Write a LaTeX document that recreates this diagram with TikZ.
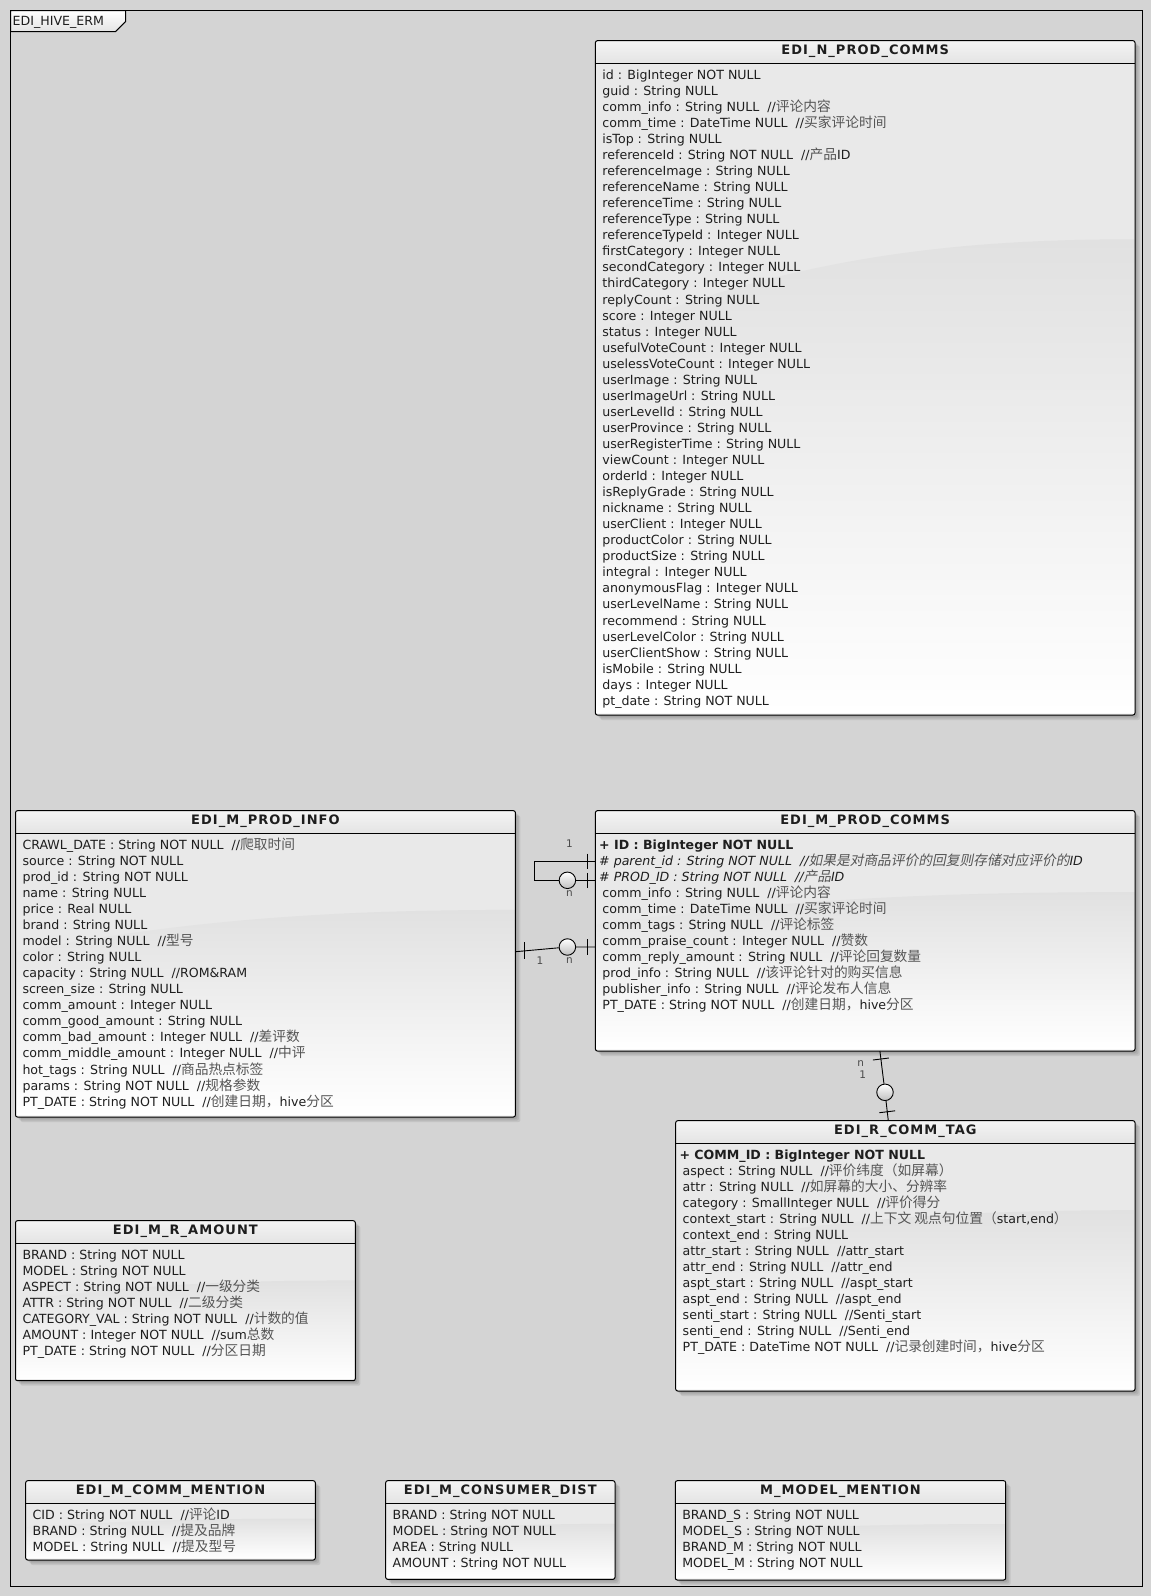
\documentclass[tikz,border=0pt]{standalone}
\usepackage{fontspec}
\setmainfont{DejaVu Sans}
\newfontfamily\cjkfont[Scale=1.09]{Noto Sans CJK SC}
\newfontfamily\cjkslant[Scale=1.09,FakeSlant=0.2]{Noto Sans CJK SC}
\newfontfamily\ttlfont[LetterSpace=8]{DejaVu Sans}
\usetikzlibrary{calc}
\definecolor{bgc}{RGB}{212,212,212}
\definecolor{txtc}{RGB}{30,30,30}
\definecolor{zhc}{RGB}{85,85,85}
\definecolor{hdtop}{RGB}{244,244,244}
\definecolor{hdbot}{RGB}{228,228,228}
\definecolor{bodyc}{RGB}{233,233,233}
\definecolor{glossc}{RGB}{225,225,225}
\newcommand\zh[1]{{\cjkfont\color{zhc}#1}}
\newcommand\zi[1]{{\cjkslant\color{zhc}#1}}
\newcommand\cgap{\ \ }
\newcommand\erbox[6]{%
  \foreach \s in {5,3.5,2}{\fill[black,opacity=0.08,rounded corners=2pt] (#2+\s,#3+\s) rectangle (#4+\s,#5+\s);}
  \node[erbody, anchor=north west, minimum width={#4-#2}, minimum height={#5-#3}] (#1) at (#2,#3) {};
  \shade[top color=glossc, bottom color=white] (#2+0.5,{#3+22.6+0.42*(#5-#3-22.6)}) .. controls ({#2+0.35*(#4-#2)},{#3+22.6+0.3*(#5-#3-22.6)}) and ({#2+0.65*(#4-#2)},{#3+22.6+0.27*(#5-#3-22.6)}) .. (#4-0.5,{#3+22.6+0.27*(#5-#3-22.6)}) -- (#4-0.5,#5-1.5) -- (#2+0.5,#5-1.5) -- cycle;
  \shade[top color=hdtop, bottom color=hdbot] (#2+0.5,#3+22.6) -- (#2+0.5,#3+0.5) -- (#4-0.5,#3+0.5) -- (#4-0.5,#3+22.6) -- cycle;
  \draw[line width=1pt, rounded corners=2pt] (#1.north west) rectangle (#1.south east);
  \draw[line width=0.9pt] (#2,#3+22.6) -- (#4,#3+22.6);
  \node[ttl] (#1-title) at ({(#2+#4)/2},#3+13.8) {#6};
}
\newcommand\tblrows[4]{%
  \foreach \t [count=\i from #2] in {#4}{%
    \node[rowtxt] (#1-r\i) at ($(#1.north west)+(#3,{38.6+(\i-1)*16.05})$) {\t};
  }%
}
\begin{document}
\begin{tikzpicture}[x=1pt,y=-1pt,
  rowtxt/.style={anchor=base west, inner sep=0pt, text=txtc, font=\fontsize{12.6}{15}\selectfont},
  ttl/.style={anchor=base, inner sep=0pt, text=txtc, font=\ttlfont\bfseries\fontsize{13}{15}\selectfont},
  erbody/.style={draw=none, fill=bodyc, rounded corners=2pt, inner sep=0pt, outer sep=0pt},
  conn/.style={draw=black, line width=0.9pt},
  crc/.style={circle, draw=black, line width=0.9pt, minimum size=16.5pt, inner sep=0pt, top color=white, bottom color=gray!50},
  lbl/.style={inner sep=0pt, text=txtc!80, font=\fontsize{10.5}{12}\selectfont},
]
\useasboundingbox (0,0) rectangle (1151,1596);
\fill[bgc] (0,0) rectangle (1151,1596);
\draw[line width=1pt] (10.5,10.5) rectangle (1142,1586);
\shadedraw[top color=white, bottom color=hdbot, draw=black, line width=1pt] (10.5,10.5) -- (125.7,10.5) -- (125.7,21.5) -- (115.5,31.7) -- (10.5,31.7) -- cycle;
\node[rowtxt] (frametitle) at (12.5,25) {EDI\_HIVE\_ERM};

% EDI_N_PROD_COMMS
\erbox{npc}{595.4}{40.7}{1135}{715}{EDI\_N\_PROD\_COMMS}
\tblrows{npc}{1}{6.8}{id : BigInteger NOT NULL, guid : String NULL, comm\_info : String NULL\cgap//\zh{评论内容}, comm\_time : DateTime NULL\cgap//\zh{买家评论时间}, isTop : String NULL, referenceId : String NOT NULL\cgap//\zh{产品}ID, referenceImage : String NULL, referenceName : String NULL, referenceTime : String NULL, referenceType : String NULL, referenceTypeId : Integer NULL, firstCategory : Integer NULL, secondCategory : Integer NULL, thirdCategory : Integer NULL, replyCount : String NULL, score : Integer NULL, status : Integer NULL, usefulVoteCount : Integer NULL, uselessVoteCount : Integer NULL, userImage : String NULL, userImageUrl : String NULL, userLevelId : String NULL, userProvince : String NULL, userRegisterTime : String NULL, viewCount : Integer NULL, orderId : Integer NULL, isReplyGrade : String NULL, nickname : String NULL, userClient : Integer NULL, productColor : String NULL, productSize : String NULL, integral : Integer NULL, anonymousFlag : Integer NULL, userLevelName : String NULL, recommend : String NULL, userLevelColor : String NULL, userClientShow : String NULL, isMobile : String NULL, days : Integer NULL, pt\_date : String NOT NULL}

% EDI_M_PROD_INFO
\erbox{mpi}{15.5}{810.7}{515.4}{1117}{EDI\_M\_PROD\_INFO}
\tblrows{mpi}{1}{6.8}{CRAWL\_DATE : String NOT NULL\cgap//\zh{爬取时间}, source : String NOT NULL, prod\_id : String NOT NULL, name : String NULL, price : Real NULL, brand : String NULL, model : String NULL\cgap//\zh{型号}, color : String NULL, capacity : String NULL\cgap//ROM\&RAM, screen\_size : String NULL, comm\_amount : Integer NULL, comm\_good\_amount : String NULL, comm\_bad\_amount : Integer NULL\cgap//\zh{差评数}, comm\_middle\_amount : Integer NULL\cgap//\zh{中评}, hot\_tags : String NULL\cgap//\zh{商品热点标签}, params : String NOT NULL\cgap//\zh{规格参数}, PT\_DATE : String NOT NULL\cgap//\zh{创建日期，}hive\zh{分区}}

% EDI_M_PROD_COMMS
\erbox{mpc}{595.4}{810.7}{1135}{1051}{EDI\_M\_PROD\_COMMS}
\tblrows{mpc}{1}{3.6}{\textbf{+ ID : BigInteger NOT NULL}, {\itshape\# parent\_id : String NOT NULL\cgap//\zi{如果是对商品评价的回复则存储对应评价的}ID}, {\itshape\# PROD\_ID : String NOT NULL\cgap//\zi{产品}ID}}
\tblrows{mpc}{4}{6.8}{comm\_info : String NULL\cgap//\zh{评论内容}, comm\_time : DateTime NULL\cgap//\zh{买家评论时间}, comm\_tags : String NULL\cgap//\zh{评论标签}, comm\_praise\_count : Integer NULL\cgap//\zh{赞数}, comm\_reply\_amount : String NULL\cgap//\zh{评论回复数量}, prod\_info : String NULL\cgap//\zh{该评论针对的购买信息}, publisher\_info : String NULL\cgap//\zh{评论发布人信息}, PT\_DATE : String NOT NULL\cgap//\zh{创建日期，}hive\zh{分区}}

% EDI_R_COMM_TAG
\erbox{rct}{675.7}{1120.7}{1135}{1391}{EDI\_R\_COMM\_TAG}
\tblrows{rct}{1}{3.6}{\textbf{+ COMM\_ID : BigInteger NOT NULL}}
\tblrows{rct}{2}{6.8}{aspect : String NULL\cgap//\zh{评价纬度（如屏幕）}, attr : String NULL\cgap//\zh{如屏幕的大小、分辨率}, category : SmallInteger NULL\cgap//\zh{评价得分}, {context\_start : String NULL\cgap//\zh{上下文 观点句位置（}start,end\zh{）}}, context\_end : String NULL, attr\_start : String NULL\cgap//attr\_start, attr\_end : String NULL\cgap//attr\_end, aspt\_start : String NULL\cgap//aspt\_start, aspt\_end : String NULL\cgap//aspt\_end, senti\_start : String NULL\cgap//Senti\_start, senti\_end : String NULL\cgap//Senti\_end, PT\_DATE : DateTime NOT NULL\cgap//\zh{记录创建时间，}hive\zh{分区}}

% EDI_M_R_AMOUNT
\erbox{mra}{15.5}{1220.7}{355.3}{1380.7}{EDI\_M\_R\_AMOUNT}
\tblrows{mra}{1}{6.8}{BRAND : String NOT NULL, MODEL : String NOT NULL, ASPECT : String NOT NULL\cgap//\zh{一级分类}, ATTR : String NOT NULL\cgap//\zh{二级分类}, CATEGORY\_VAL : String NOT NULL\cgap//\zh{计数的值}, AMOUNT : Integer NOT NULL\cgap//sum\zh{总数}, PT\_DATE : String NOT NULL\cgap//\zh{分区日期}}

% EDI_M_COMM_MENTION
\erbox{mcm}{25.7}{1480.7}{315.3}{1560}{EDI\_M\_COMM\_MENTION}
\tblrows{mcm}{1}{6.8}{CID : String NOT NULL\cgap//\zh{评论}ID, BRAND : String NULL\cgap//\zh{提及品牌}, MODEL : String NULL\cgap//\zh{提及型号}}

% EDI_M_CONSUMER_DIST
\erbox{mcd}{385.7}{1480.7}{615}{1579.3}{EDI\_M\_CONSUMER\_DIST}
\tblrows{mcd}{1}{6.8}{BRAND : String NOT NULL, MODEL : String NOT NULL, AREA : String NULL, AMOUNT : String NOT NULL}

% M_MODEL_MENTION
\erbox{mmm}{675.3}{1480.7}{1005.7}{1580}{M\_MODEL\_MENTION}
\tblrows{mmm}{1}{6.8}{BRAND\_S : String NOT NULL, MODEL\_S : String NOT NULL, BRAND\_M : String NOT NULL, MODEL\_M : String NOT NULL}

% connectors
\coordinate (l1a) at ($(mpc.north west)+(0,50.3)$);
\coordinate (l1b) at ($(mpc.north west)+(0,69.6)$);
\coordinate (l2a) at ($(mpi.north east)+(0,141)$);
\coordinate (l2b) at ($(mpc.north west)+(0,136.3)$);
\coordinate (l3a) at ($(mpc.south west)+(284.5,0)$);
\coordinate (l3b) at ($(rct.north west)+(212.6,0)$);
\node[crc] (c1) at (567.4,880.3) {};
\node[crc] (c2) at (567.4,947) {};
\node[crc] (c3) at (885,1092.3) {};
\draw[conn] (l1a) -- ++(-60.5,0) |- (c1);
\draw[conn] (c1) -- (l1b);
\draw[conn] (l2a) -- (c2) -- (l2b);
\draw[conn] (l3a) -- (c3) -- (l3b);
% ticks
\draw[conn] ($(l1a)+(-8.2,-7.5)$) -- ++(0,15);
\draw[conn] ($(l1b)+(-8.2,-7.5)$) -- ++(0,15);
\draw[conn] ($(l2a)+(8.8,-9.5)$) -- ++(0,16.5);
\draw[conn] ($(l2b)+(-8.2,-8)$) -- ++(0,16);
\draw[conn] ($(l3a)+(-7,9)$) -- ($(l3a)+(8.9,7)$);
\draw[conn] ($(l3b)+(-9,-8)$) -- ($(l3b)+(6.8,-9.9)$);
% multiplicities
\node[lbl] (m1a) at (569.4,843.3) {1};
\node[lbl] (m1b) at (569.4,893.3) {n};
\node[lbl] (m2a) at (540,961) {1};
\node[lbl] (m2b) at (569.4,960.3) {n};
\node[lbl] (m3a) at (860.7,1064) {n};
\node[lbl] (m3b) at (862.7,1074.3) {1};
\end{tikzpicture}
\end{document}
